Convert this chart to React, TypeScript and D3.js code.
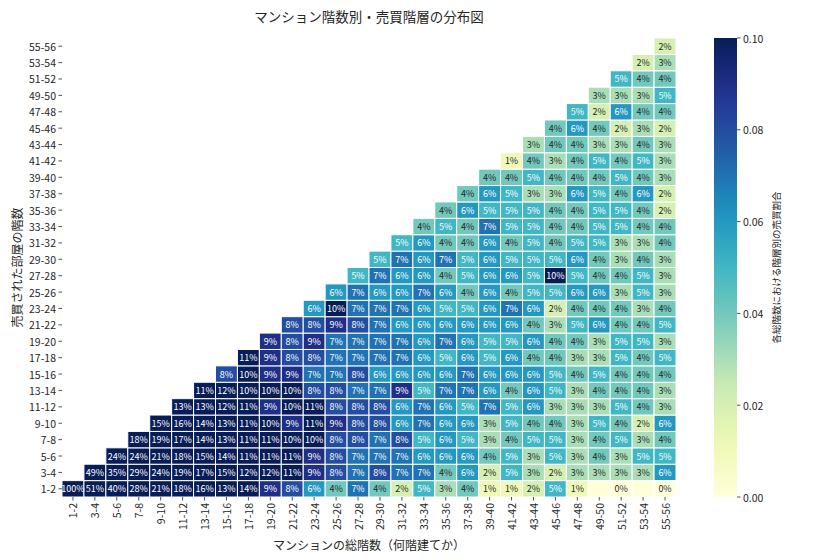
import React from 'react';
import * as d3 from 'd3';

// floor bands, used for both axes (total floors on x, sold floor on y)
const floorBands = [
  '1-2', '3-4', '5-6', '7-8', '9-10', '11-12', '13-14', '15-16', '17-18', '19-20',
  '21-22', '23-24', '25-26', '27-28', '29-30', '31-32', '33-34', '35-36', '37-38', '39-40',
  '41-42', '43-44', '45-46', '47-48', '49-50', '51-52', '53-54', '55-56',
];

// share (%) of sales per sold-floor row, starting at the diagonal column
// null = cell drawn but no label
const row01 = [100, 51, 40, 28, 21, 18, 16, 13, 14, 9, 8, 6, 4, 7, 4, 2, 5, 3, 4, 1, 1, 2, 5, 1, null, 0, null, 0];
const row02 = [49, 35, 29, 24, 19, 17, 15, 12, 12, 11, 9, 8, 7, 8, 7, 7, 4, 6, 2, 5, 3, 2, 3, 3, 3, 3, 6];
const row03 = [24, 24, 21, 18, 15, 14, 11, 11, 11, 9, 8, 7, 7, 7, 6, 6, 6, 4, 5, 3, 5, 3, 4, 3, 5, 5];
const row04 = [18, 19, 17, 14, 13, 11, 11, 10, 10, 8, 8, 7, 8, 5, 6, 5, 3, 4, 5, 5, 3, 4, 5, 3, 4];
const row05 = [15, 16, 14, 13, 11, 10, 9, 11, 9, 8, 8, 6, 7, 6, 6, 3, 5, 4, 4, 3, 5, 4, 2, 6];
const row06 = [13, 13, 12, 11, 9, 10, 11, 8, 8, 8, 6, 7, 6, 5, 7, 5, 6, 3, 3, 3, 5, 4, 3];
const row07 = [11, 12, 10, 10, 10, 8, 8, 7, 7, 9, 5, 7, 7, 6, 4, 6, 5, 3, 4, 4, 4, 3];
const row08 = [8, 10, 9, 9, 7, 7, 8, 6, 6, 6, 6, 7, 6, 6, 6, 5, 4, 5, 4, 4, 4];
const row09 = [11, 9, 8, 8, 7, 7, 7, 7, 6, 5, 6, 5, 6, 4, 4, 3, 3, 5, 4, 5];
const row10 = [9, 8, 9, 7, 7, 7, 7, 6, 7, 6, 5, 5, 6, 4, 4, 3, 5, 5, 3];
const row11 = [8, 8, 9, 8, 7, 6, 6, 6, 6, 6, 6, 4, 3, 5, 6, 4, 4, 5];
const row12 = [6, 10, 7, 7, 7, 6, 5, 5, 6, 7, 6, 2, 4, 4, 4, 3, 4];
const row13 = [6, 7, 6, 6, 7, 6, 4, 6, 4, 5, 5, 6, 6, 3, 5, 3];
const row14 = [5, 7, 6, 6, 4, 5, 6, 6, 5, 10, 5, 4, 4, 5, 3];
const row15 = [5, 7, 6, 7, 5, 6, 5, 5, 5, 6, 4, 3, 4, 3];
const row16 = [5, 6, 4, 4, 6, 4, 5, 4, 5, 5, 3, 3, 4];
const row17 = [4, 5, 4, 7, 5, 5, 4, 4, 5, 5, 4, 4];
const row18 = [4, 6, 5, 5, 5, 4, 4, 5, 5, 4, 2];
const row19 = [4, 6, 5, 3, 3, 6, 5, 4, 6, 2];
const row20 = [4, 4, 5, 4, 4, 4, 5, 4, 3];
const row21 = [1, 4, 3, 4, 5, 4, 5, 3];
const row22 = [3, 4, 4, 3, 3, 4, 3];
const row23 = [4, 6, 4, 2, 3, 2];
const row24 = [5, 2, 6, 4, 4];
const row25 = [3, 3, 3, 5];
const row26 = [5, 4, 4];
const row27 = [2, 3];
const row28 = [2];

const rows = [
  row01, row02, row03, row04, row05, row06, row07, row08, row09, row10, row11, row12, row13, row14,
  row15, row16, row17, row18, row19, row20, row21, row22, row23, row24, row25, row26, row27, row28,
];

const colorTicks = [0, 0.02, 0.04, 0.06, 0.08, 0.1];

const FONT = '"Noto Sans CJK JP", "Noto Sans", sans-serif';

const App = () => {
  const width = 840;
  const height = 560;
  const margin = { top: 38, left: 62, right: 164, bottom: 63 };
  const plotW = width - margin.left - margin.right;
  const plotH = height - margin.top - margin.bottom;

  const x = d3.scaleBand().domain(floorBands).range([margin.left, margin.left + plotW]);
  const y = d3.scaleBand().domain(floorBands).range([margin.top + plotH, margin.top]);

  const color = d3
    .scaleSequential(d3.piecewise(d3.interpolateRgb, d3.schemeYlGnBu[9]))
    .domain([0, 0.1])
    .clamp(true);

  const cells = rows.flatMap((vals, r) =>
    vals.map((v, k) => ({ row: floorBands[r], col: floorBands[r + k], v })),
  );

  // seaborn-style annotation colour: dark text on light cells
  const textColor = (c: string) => {
    const rgb = d3.rgb(c);
    const lin = [rgb.r, rgb.g, rgb.b].map((u) => {
      const s = u / 255;
      return s <= 0.03928 ? s / 12.92 : Math.pow((s + 0.055) / 1.055, 2.4);
    });
    const lum = 0.2126 * lin[0] + 0.7152 * lin[1] + 0.0722 * lin[2];
    return lum > 0.408 ? '#262626' : '#ffffff';
  };

  const cbX = 714;
  const cbW = 23;
  const cbScale = d3.scaleLinear().domain([0, 0.1]).range([margin.top + plotH, margin.top]);
  const gradStops = d3.range(0, 1.0001, 0.05);

  return (
    <svg width={width} height={height} style={{ display: 'block', position: 'absolute', left: 0, top: 0 }} fontFamily={FONT}>
      <defs>
        <linearGradient id="cbar" x1="0" y1="1" x2="0" y2="0">
          {gradStops.map((t) => (
            <stop key={t} offset={t} stopColor={color(t * 0.1)} />
          ))}
        </linearGradient>
      </defs>
      <rect width={width} height={height} fill="#fff" />

      <text x={369} y={22} textAnchor="middle" fontSize={13.5} fill="#262626">
        マンション階数別・売買階層の分布図
      </text>

      {/* heatmap cells */}
      {cells.map((c) => (
        <rect
          key={`r${c.row}-${c.col}`}
          x={x(c.col)}
          y={y(c.row)}
          width={x.bandwidth()}
          height={y.bandwidth()}
          fill={color((c.v ?? 0) / 100)}
          stroke="#fff"
          strokeWidth={1}
        />
      ))}
      {cells
        .filter((c) => c.v !== null)
        .map((c) => (
          <text
            key={`t${c.row}-${c.col}`}
            x={x(c.col)! + x.bandwidth() / 2}
            y={y(c.row)! + y.bandwidth() / 2}
            textAnchor="middle"
            dominantBaseline="central"
            fontSize={9}
            fill={textColor(color((c.v as number) / 100))}
          >
            {`${c.v}%`}
          </text>
        ))}

      {/* y axis */}
      {floorBands.map((b) => {
        const cy = y(b)! + y.bandwidth() / 2;
        return (
          <g key={`y${b}`}>
            <line x1={margin.left - 3.5} x2={margin.left} y1={cy} y2={cy} stroke="#262626" strokeWidth={0.8} />
            <text x={margin.left - 6} y={cy} textAnchor="end" dominantBaseline="central" fontSize={10.5} fill="#262626">
              {b}
            </text>
          </g>
        );
      })}

      {/* x axis */}
      {floorBands.map((b) => {
        const cx = x(b)! + x.bandwidth() / 2;
        const by = margin.top + plotH;
        return (
          <g key={`x${b}`}>
            <line x1={cx} x2={cx} y1={by} y2={by + 3.5} stroke="#262626" strokeWidth={0.8} />
            <text
              transform={`translate(${cx},${by + 6}) rotate(-90)`}
              textAnchor="end"
              dominantBaseline="central"
              fontSize={10.5}
              fill="#262626"
            >
              {b}
            </text>
          </g>
        );
      })}

      <text x={369} y={550} textAnchor="middle" fontSize={12} fill="#262626">
        マンションの総階数（何階建てか）
      </text>
      <text
        transform={`translate(16,${margin.top + plotH / 2}) rotate(-90)`}
        textAnchor="middle"
        dominantBaseline="central"
        fontSize={12}
        fill="#262626"
      >
        売買された部屋の階数
      </text>

      {/* colorbar */}
      <rect x={cbX} y={margin.top} width={cbW} height={plotH} fill="url(#cbar)" />
      {colorTicks.map((t) => (
        <g key={`c${t}`}>
          <line x1={cbX + cbW} x2={cbX + cbW + 3.5} y1={cbScale(t)} y2={cbScale(t)} stroke="#262626" strokeWidth={0.8} />
          <text x={cbX + cbW + 6} y={cbScale(t)} dominantBaseline="central" fontSize={10.5} fill="#262626">
            {t.toFixed(2)}
          </text>
        </g>
      ))}
      <text
        transform={`translate(776,${margin.top + plotH / 2}) rotate(-90)`}
        textAnchor="middle"
        dominantBaseline="central"
        fontSize={9.5}
        fill="#262626"
      >
        各総階数における階層別の売買割合
      </text>
    </svg>
  );
};

export default App;
